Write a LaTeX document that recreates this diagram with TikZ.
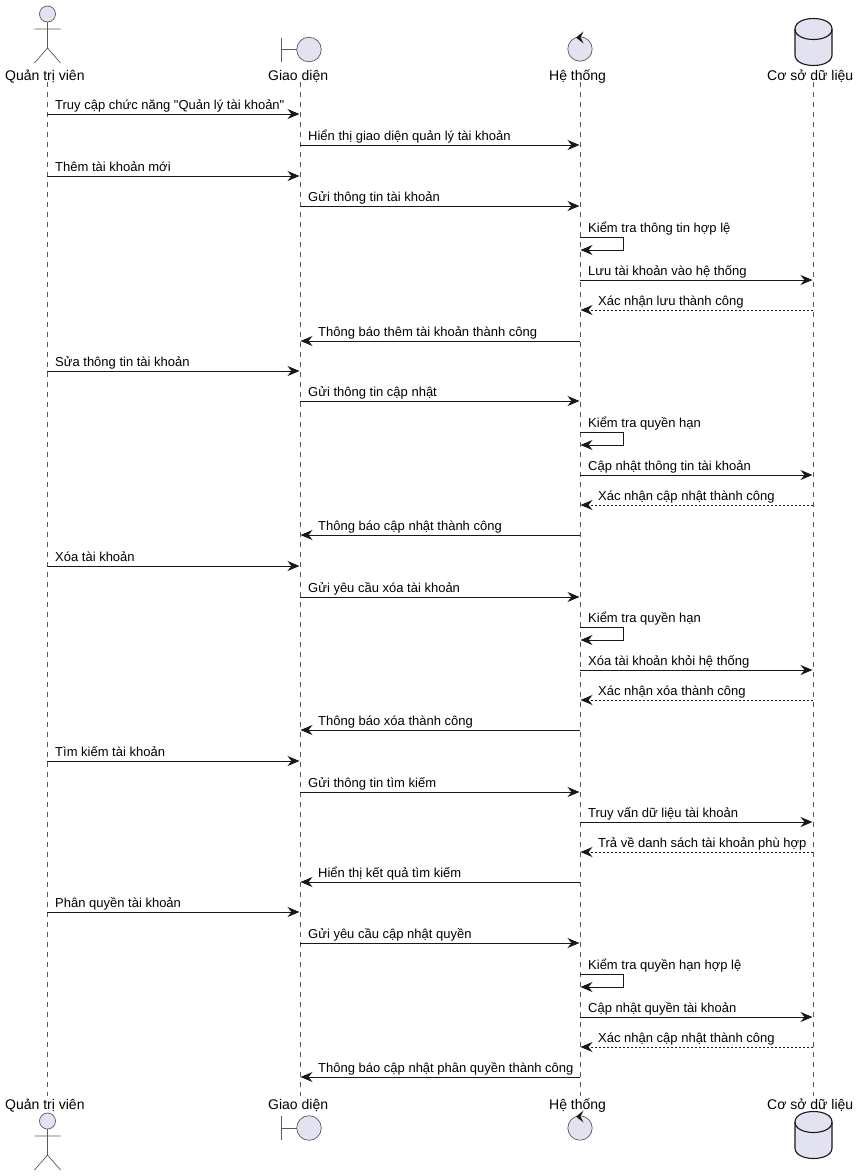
\documentclass[tikz,border=0pt]{standalone}
\usepackage{fontspec}
\setmainfont{Liberation Sans}[Ligatures=TeXOff]
\usetikzlibrary{arrows.meta}

\definecolor{partfill}{HTML}{E2E2F0}
\definecolor{partline}{HTML}{5A5A5A}
\definecolor{dbline}{HTML}{181818}

\begin{document}
\begin{tikzpicture}[x=1pt,y=-1pt,
	lifeline/.style={draw=partline, line width=0.6pt, dash pattern=on 5pt off 5pt},
	partlab/.style={anchor=base west, inner sep=0, font=\fontsize{14}{16}\selectfont},
	msglab/.style={anchor=base west, inner sep=0, font=\fontsize{13}{15}\selectfont},
	msg/.style={draw=dbline, line width=1pt, -{Stealth[length=12pt,width=10pt,inset=4pt]}, shorten >=0.5pt},
	reply/.style={msg, dash pattern=on 2pt off 2pt},
	actorfig/.pic={
		\draw[draw=partline, fill=partfill, line width=0.7pt] (0,-34) circle (8);
		\draw[draw=partline, line width=0.7pt] (0,-26) -- (0,0) (-13,-19) -- (13,-19) (-13,15) -- (0,0) -- (13,15);
	},
	boundfig/.pic={
		\draw[draw=partline, line width=0.7pt] (-19,-12) -- (-19,12) (-19,0) -- (-3,0);
		\draw[draw=partline, fill=partfill, line width=0.7pt] (9,0) circle (12.3);
	},
	ctrlfig/.pic={
		\draw[draw=partline, fill=partfill, line width=0.7pt] (0,0) circle (12.2);
		\fill[dbline] (-4,-11.5) -- (3.5,-17.5) -- (0.5,-11.5) -- (3.5,-5.5) -- cycle;
	},
	dbfig/.pic={
		\draw[draw=dbline, fill=partfill, line width=1.1pt] (-18.5,-13) .. controls (-18.5,-27) and (18.5,-27) .. (18.5,-13)
			-- (18.5,13) .. controls (18.5,27) and (-18.5,27) .. (-18.5,13) -- cycle;
		\draw[draw=dbline, line width=1.1pt] (-18.5,-13) .. controls (-18.5,1) and (18.5,1) .. (18.5,-13);
	}]

	\useasboundingbox (0,0) rectangle (859,1176);

	%lifelines
	\foreach \n/\x in {qtv/47,gd/300,ht/580,csdl/813} {
		\coordinate (\n top) at (\x,82);
		\coordinate (\n bot) at (\x,1096);
		\draw[lifeline] (\n top) -- (\n bot);
	}

	%participants, top and bottom
	\node[partlab] at (5,80) (qtv1) {Quản trị viên};
	\node[partlab] at (268,80) (gd1) {Giao diện};
	\node[partlab] at (549,80) (ht1) {Hệ thống};
	\node[partlab] at (767,80) (csdl1) {Cơ sở dữ liệu};
	\node[partlab] at (5,1109) (qtv2) {Quản trị viên};
	\node[partlab] at (268,1109) (gd2) {Giao diện};
	\node[partlab] at (549,1109) (ht2) {Hệ thống};
	\node[partlab] at (767,1109) (csdl2) {Cơ sở dữ liệu};
	\pic at (47.5,48) {actorfig};
	\pic at (47.5,1155) {actorfig};
	\pic at (300,49.5) {boundfig};
	\pic at (300,1128) {boundfig};
	\pic at (580,49) {ctrlfig};
	\pic at (580,1128) {ctrlfig};
	\pic at (813.5,42) {dbfig};
	\pic at (813.5,1135) {dbfig};

	%calls, left to right
	\foreach \y/\a/\b/\txt in {
		114/qtv/gd/{Truy cập chức năng "Quản lý tài khoản"},
		145/gd/ht/{Hiển thị giao diện quản lý tài khoản},
		176/qtv/gd/{Thêm tài khoản mới},
		206/gd/ht/{Gửi thông tin tài khoản},
		280/ht/csdl/{Lưu tài khoản vào hệ thống},
		371/qtv/gd/{Sửa thông tin tài khoản},
		401/gd/ht/{Gửi thông tin cập nhật},
		475/ht/csdl/{Cập nhật thông tin tài khoản},
		566/qtv/gd/{Xóa tài khoản},
		597/gd/ht/{Gửi yêu cầu xóa tài khoản},
		670/ht/csdl/{Xóa tài khoản khỏi hệ thống},
		761/qtv/gd/{Tìm kiếm tài khoản},
		792/gd/ht/{Gửi thông tin tìm kiếm},
		822/ht/csdl/{Truy vấn dữ liệu tài khoản},
		912/qtv/gd/{Phân quyền tài khoản},
		943/gd/ht/{Gửi yêu cầu cập nhật quyền},
		1017/ht/csdl/{Cập nhật quyền tài khoản}} {
		\draw[msg] (\a top |- 0,\y) -- (\b top |- 0,\y);
		\node[msglab] at ([xshift=8pt,yshift=5pt]\a top |- 0,\y) {\txt};
	}

	%self calls
	\foreach \y/\txt in {
		237/{Kiểm tra thông tin hợp lệ},
		432/{Kiểm tra quyền hạn},
		627/{Kiểm tra quyền hạn},
		974/{Kiểm tra quyền hạn hợp lệ}} {
		\draw[msg] (httop |- 0,\y) -- ++(43,0) -- ++(0,13) -- (httop |- 0,\y+13);
		\node[msglab] at ([xshift=8pt,yshift=5pt]httop |- 0,\y) {\txt};
	}

	%answers, right to left
	\foreach \y/\a/\b/\txt/\sty in {
		310/csdl/ht/{Xác nhận lưu thành công}/reply,
		341/ht/gd/{Thông báo thêm tài khoản thành công}/msg,
		505/csdl/ht/{Xác nhận cập nhật thành công}/reply,
		535/ht/gd/{Thông báo cập nhật thành công}/msg,
		700/csdl/ht/{Xác nhận xóa thành công}/reply,
		730/ht/gd/{Thông báo xóa thành công}/msg,
		852/csdl/ht/{Trả về danh sách tài khoản phù hợp}/reply,
		882/ht/gd/{Hiển thị kết quả tìm kiếm}/msg,
		1047/csdl/ht/{Xác nhận cập nhật thành công}/reply,
		1077/ht/gd/{Thông báo cập nhật phân quyền thành công}/msg} {
		\draw[\sty] (\a top |- 0,\y) -- (\b top |- 0,\y);
		\node[msglab] at ([xshift=18pt,yshift=5pt]\b top |- 0,\y) {\txt};
	}
\end{tikzpicture}
\end{document}
